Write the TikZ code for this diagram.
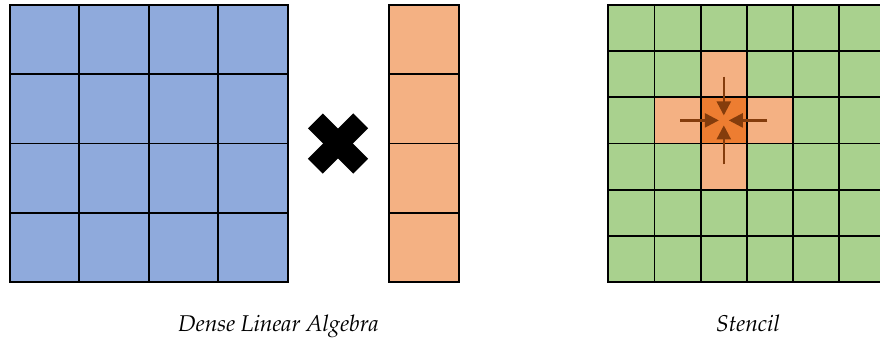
\documentclass[tikz,border=0pt]{standalone}
\usepackage[T1]{fontenc}
\usetikzlibrary{arrows.meta}
\definecolor{blueA}{HTML}{8FAADC}
\definecolor{orangeL}{HTML}{F4B183}
\definecolor{orangeD}{HTML}{ED7D31}
\definecolor{greenA}{HTML}{A9D18E}
\definecolor{arrowC}{HTML}{843C0C}
\begin{document}
\begin{tikzpicture}[x=1pt,y=-1pt,
  gridline/.style={line width=1.9pt, black, line cap=rect},
  sarrow/.style={line width=2.4pt, arrowC, -{Triangle[length=14pt,width=14pt]}},
  lbl/.style={anchor=base, inner sep=0pt, font=\fontfamily{ppl}\fontsize{22.8}{27}\selectfont\itshape}]
\useasboundingbox (0,0) rectangle (880,343);
\begin{scope}
\clip (0,0) rectangle (880,343);
% dense matrix
\fill[blueA] (10,5) rectangle (287.6,282);
\foreach \i in {0,...,4} {
  \draw[gridline] ({10+\i*69.4},5) -- ({10+\i*69.4},282);
  \draw[gridline] (10,{5+\i*69.25}) -- (287.6,{5+\i*69.25});
}
% vector
\fill[orangeL] (389,5) rectangle (459,282);
\draw[gridline] (389,5) -- (389,282);
\draw[gridline] (459,5) -- (459,282);
\foreach \i in {0,...,4} \draw[gridline] (389,{5+\i*69.25}) -- (459,{5+\i*69.25});
% multiplication sign
\fill[black, rotate around={45:(338,143.5)}] (306,133) rectangle (370,154);
\fill[black, rotate around={-45:(338,143.5)}] (306,133) rectangle (370,154);
% stencil grid
\fill[greenA] (608.3,5) rectangle (885.5,282);
\foreach \c/\r in {2/1,1/2,3/2,2/3}
  \fill[orangeL] ({608.3+\c*46.2},{5+\r*46.17}) rectangle ++(46.2,46.17);
\fill[orangeD] ({608.3+2*46.2},{5+2*46.17}) rectangle ++(46.2,46.17);
\foreach \i in {0,...,6} {
  \draw[gridline] ({608.3+\i*46.2},5) -- ({608.3+\i*46.2},282);
  \draw[gridline] (608.3,{5+\i*46.17}) -- (885.5,{5+\i*46.17});
}
\coordinate (nT0) at (723.8,76.5);
\coordinate (nT1) at (723.8,115.4);
\coordinate (nB0) at (723.8,164.3);
\coordinate (nB1) at (723.8,125.4);
\coordinate (nL0) at (680.3,120.4);
\coordinate (nL1) at (718.8,120.4);
\coordinate (nR0) at (767.3,120.4);
\coordinate (nR1) at (728.8,120.4);
\draw[sarrow] (nT0) -- (nT1);
\draw[sarrow] (nB0) -- (nB1);
\draw[sarrow] (nL0) -- (nL1);
\draw[sarrow] (nR0) -- (nR1);
\end{scope}
\node[lbl] (dla) at (278.5,331.7) {Dense Linear Algebra};
\node[lbl] (sten) at (748,331.7) {Stencil};
\end{tikzpicture}
\end{document}
